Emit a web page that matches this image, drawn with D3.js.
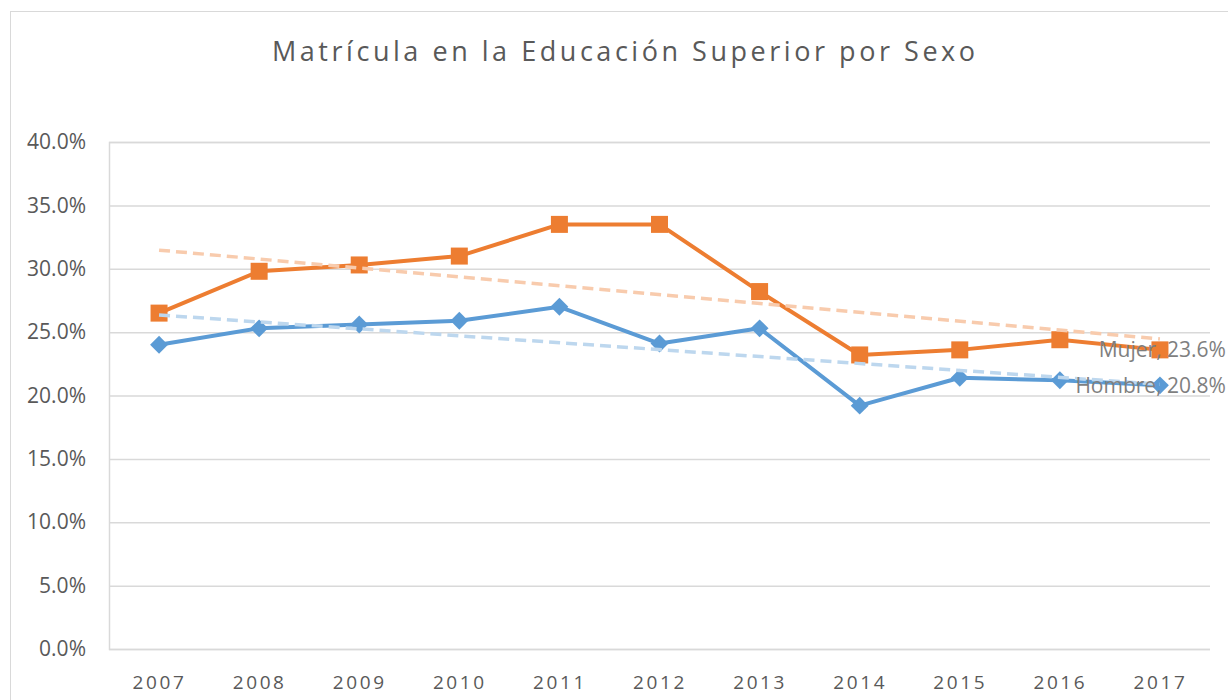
<!DOCTYPE html>
<html>
<head>
<meta charset="utf-8">
<script src="https://cdn.jsdelivr.net/npm/d3@7"></script>
<style>
  body { margin: 0; background: #fff; }
  svg { display: block; font-family: "Open Sans", sans-serif; }
</style>
</head>
<body>
<div id="chart"></div>
<script>
var years = ["2007", "2008", "2009", "2010", "2011", "2012", "2013", "2014", "2015", "2016", "2017"];
var mujer = [0.265, 0.298, 0.303, 0.310, 0.335, 0.335, 0.282, 0.232, 0.236, 0.244, 0.236];
var hombre = [0.240, 0.253, 0.256, 0.259, 0.270, 0.241, 0.253, 0.192, 0.214, 0.212, 0.208];
var yTicks = [0, 0.05, 0.10, 0.15, 0.20, 0.25, 0.30, 0.35, 0.40];
var titleText = "Matrícula en la Educación Superior por Sexo";

var width = 1228, height = 700;
var plotLeft = 109, plotRight = 1210, plotTop = 142, plotBottom = 649;

var svg = d3.select("#chart").append("svg")
    .attr("width", width)
    .attr("height", height);

// chart border
svg.append("rect")
    .attr("x", 10.5).attr("y", 11.5)
    .attr("width", 1240).attr("height", 720)
    .attr("fill", "none")
    .attr("stroke", "#d9d9d9");

svg.append("text")
    .attr("x", 272).attr("y", 61)
    .attr("textLength", 703)
    .attr("lengthAdjust", "spacing")
    .style("font-size", "27px")
    .style("fill", "#595959")
    .text(titleText);

var x = d3.scalePoint().domain(years).range([plotLeft, plotRight]).padding(0.5);
var y = d3.scaleLinear().domain([0, 0.4]).range([plotBottom, plotTop]);

// gridlines + y labels
var yAxis = svg.append("g")
    .attr("transform", "translate(" + plotLeft + ",0)")
    .call(d3.axisLeft(y).tickValues(yTicks).tickFormat(d3.format(".1%"))
        .tickSize(-(plotRight - plotLeft)).tickPadding(23));
yAxis.select(".domain").attr("stroke", "#d9d9d9").attr("stroke-width", 1.5);
yAxis.selectAll(".tick line").attr("stroke", "#d9d9d9").attr("stroke-width", 1.5);
yAxis.selectAll(".tick text")
    .style("font-size", "21px")
    .style("fill", "#595959")
    .style("font-family", "'Open Sans', sans-serif");

// x labels
var xAxis = svg.append("g")
    .attr("transform", "translate(0," + plotBottom + ")")
    .call(d3.axisBottom(x).tickSize(0).tickPadding(27));
xAxis.select(".domain").remove();
xAxis.selectAll(".tick text")
    .style("font-size", "19px")
    .style("letter-spacing", "2.6px")
    .style("fill", "#595959")
    .style("font-family", "'Open Sans', sans-serif");

var line = d3.line()
    .x(function (d, i) { return x(years[i]); })
    .y(function (d) { return y(d); });

// series
svg.append("path").datum(hombre)
    .attr("d", line).attr("fill", "none")
    .attr("stroke", "#5b9bd5").attr("stroke-width", 4)
    .attr("stroke-linejoin", "round");
svg.append("path").datum(mujer)
    .attr("d", line).attr("fill", "none")
    .attr("stroke", "#ed7d31").attr("stroke-width", 4)
    .attr("stroke-linejoin", "round");

var diamond = d3.symbol().type(d3.symbolSquare).size(160);
svg.append("g").selectAll("path")
    .data(hombre).enter().append("path")
    .attr("d", diamond)
    .attr("transform", function (d, i) { return "translate(" + x(years[i]) + "," + y(d) + ") rotate(45)"; })
    .attr("fill", "#5b9bd5");

svg.append("g").selectAll("rect")
    .data(mujer).enter().append("rect")
    .attr("x", function (d, i) { return x(years[i]) - 8.5; })
    .attr("y", function (d) { return y(d) - 8.5; })
    .attr("width", 17).attr("height", 17)
    .attr("fill", "#ed7d31");

// linear trendlines
function trend(vals) {
    var n = vals.length, mx = (n - 1) / 2, my = d3.mean(vals);
    var sxy = 0, sxx = 0;
    vals.forEach(function (v, i) { sxy += (i - mx) * (v - my); sxx += (i - mx) * (i - mx); });
    var b = sxy / sxx;
    return [my - b * mx, my + b * (n - 1 - mx)];
}
var tM = trend(mujer), tH = trend(hombre);
var first = years[0], last = years[years.length - 1];

svg.append("line")
    .attr("x1", x(first)).attr("y1", y(tM[0]))
    .attr("x2", x(last)).attr("y2", y(tM[1]))
    .attr("stroke", "#f8cbad").attr("stroke-width", 3.5)
    .attr("stroke-dasharray", "11,6");
svg.append("line")
    .attr("x1", x(first)).attr("y1", y(tH[0]))
    .attr("x2", x(last)).attr("y2", y(tH[1]))
    .attr("stroke", "#bdd7ee").attr("stroke-width", 3.5)
    .attr("stroke-dasharray", "11,6");

// end labels
var fmt = d3.format(".1%");
svg.append("text")
    .attr("x", x(last) + 66).attr("y", y(mujer[mujer.length - 1]))
    .attr("dy", "0.35em")
    .attr("text-anchor", "end")
    .style("font-size", "21px")
    .style("fill", "#7f7f7f")
    .text("Mujer, " + fmt(mujer[mujer.length - 1]));
svg.append("text")
    .attr("x", x(last) + 66).attr("y", y(hombre[hombre.length - 1]))
    .attr("dy", "0.35em")
    .attr("text-anchor", "end")
    .style("font-size", "21px")
    .style("fill", "#7f7f7f")
    .text("Hombre, " + fmt(hombre[hombre.length - 1]));
</script>
</body>
</html>
